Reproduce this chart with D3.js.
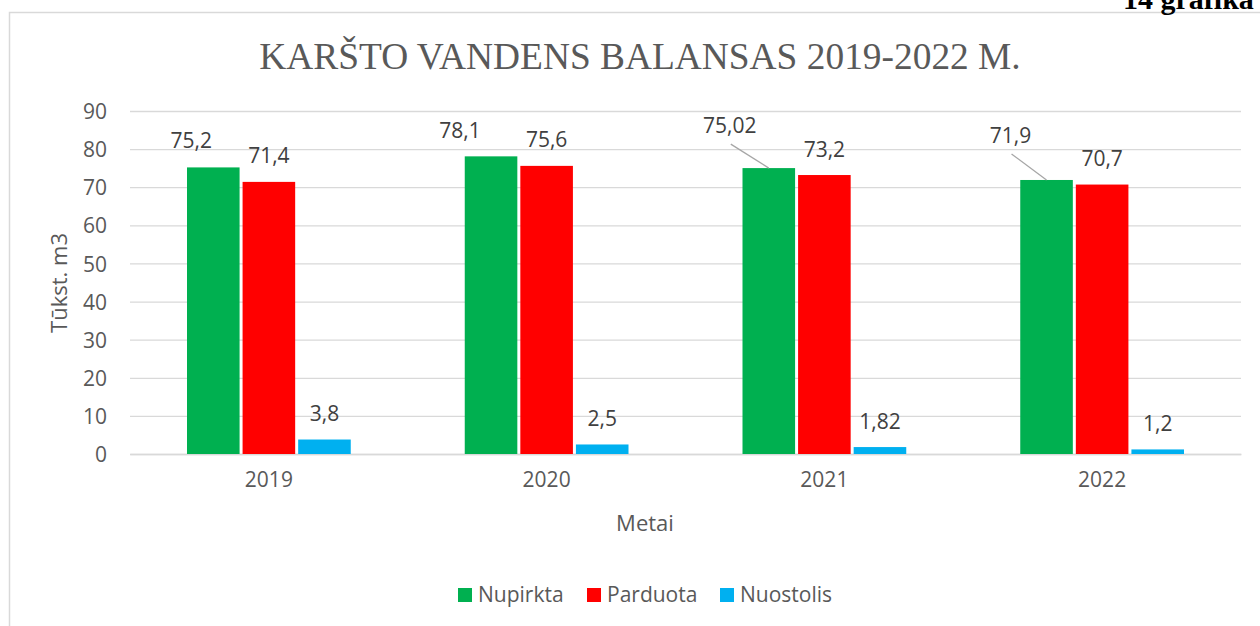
<!DOCTYPE html>
<html>
<head>
<meta charset="utf-8">
<script src="https://cdn.jsdelivr.net/npm/d3@7"></script>
<style>
  body { margin: 0; background: #fff; }
  svg { display: block; }
</style>
</head>
<body>
<script>
"use strict"
const w = 1260;
const h = 626;

// data
const years = ['2019', '2020', '2021', '2022'];
const seriesNames = ['Nupirkta', 'Parduota', 'Nuostolis'];
const nupirkta = [75.2, 78.1, 75.02, 71.9];
const parduota = [71.4, 75.6, 73.2, 70.7];
const nuostolis = [3.8, 2.5, 1.82, 1.2];
const yTicks = [0, 10, 20, 30, 40, 50, 60, 70, 80, 90];

const colors = ['#00b050', '#ff0000', '#00b0f0'];
const textGrey = '#595959';
const gridGrey = '#d9d9d9';
const sans = '"Open Sans", "Noto Sans", sans-serif';

const plot = {left: 130, right: 1241, top: 111, bottom: 454};

const mySvg = d3.select('body')
	.append('svg')
	.attr('width', w)
	.attr('height', h);

// chart frame (runs off the right / bottom edge)
mySvg.append('rect')
	.attr('x', 9.5)
	.attr('y', 12.5)
	.attr('width', 1400)
	.attr('height', 800)
	.attr('fill', 'none')
	.attr('stroke', gridGrey)
	.attr('stroke-width', 1.5);

// page caption, cut off at the top like in the original
mySvg.append('text')
	.attr('x', 1123)
	.attr('y', 9)
	.attr('font-family', '"Liberation Serif", "Times New Roman", serif')
	.attr('font-weight', 'bold')
	.attr('font-size', 30)
	.attr('fill', '#000')
	.text('14 grafika');

mySvg.append('text')
	.attr('x', 640)
	.attr('y', 69)
	.attr('text-anchor', 'middle')
	.attr('font-family', '"Liberation Serif", "Times New Roman", serif')
	.attr('font-size', 37.4)
	.attr('fill', textGrey)
	.text('KARŠTO VANDENS BALANSAS 2019-2022 M.');

const yScale = d3.scaleLinear()
	.domain([0, 90])
	.range([plot.bottom, plot.top]);

const xScale = d3.scaleBand()
	.domain(years)
	.range([plot.left, plot.right]);

const groupPad = 57;
const xInner = d3.scaleBand()
	.domain(seriesNames)
	.range([groupPad, xScale.bandwidth() - groupPad])
	.paddingInner(0.054)
	.paddingOuter(0);

// gridlines + axis labels
const yAxis = d3.axisLeft(yScale)
	.tickValues(yTicks)
	.tickSize(-(plot.right - plot.left))
	.tickPadding(23);

const gy = mySvg.append('g')
	.attr('transform', 'translate(' + plot.left + ',0)')
	.call(yAxis);
gy.select('.domain').remove();
gy.selectAll('line').attr('stroke', gridGrey).attr('stroke-width', 1.3);
gy.selectAll('text')
	.attr('font-family', sans)
	.attr('font-size', 21)
	.attr('fill', textGrey)
	.attr('dy', '0.36em');

const xAxis = d3.axisBottom(xScale).tickSize(0).tickPadding(18);
const gx = mySvg.append('g')
	.attr('transform', 'translate(0,' + plot.bottom + ')')
	.call(xAxis);
gx.select('.domain').attr('stroke', gridGrey).attr('stroke-width', 1.3);
gx.selectAll('text')
	.attr('font-family', sans)
	.attr('font-size', 21)
	.attr('fill', textGrey);

mySvg.append('text')
	.attr('x', 645)
	.attr('y', 531)
	.attr('text-anchor', 'middle')
	.attr('font-family', sans)
	.attr('font-size', 22)
	.attr('fill', textGrey)
	.text('Metai');

mySvg.append('text')
	.attr('transform', 'translate(67,283) rotate(-90)')
	.attr('text-anchor', 'middle')
	.attr('font-family', sans)
	.attr('font-size', 22)
	.attr('fill', textGrey)
	.text('Tūkst. m3');

// bars
const allSeries = [nupirkta, parduota, nuostolis];
const rows = [];
allSeries.forEach((vals, s) => {
	vals.forEach((v, i) => rows.push({s: s, i: i, year: years[i], value: v}));
});

mySvg.append('g')
	.selectAll('rect')
	.data(rows)
	.enter()
	.append('rect')
	.attr('x', d => xScale(d.year) + xInner(seriesNames[d.s]))
	.attr('y', d => yScale(d.value))
	.attr('width', xInner.bandwidth())
	.attr('height', d => yScale(0) - yScale(d.value))
	.attr('fill', d => colors[d.s]);

// data labels; the green ones were dragged up-left in the original
const greenNudge = [[-22, -19], [-31, -18], [-39, -35], [-36, -37]];
const withLeader = [false, false, true, true];

function labelPos(d) {
	const cx = xScale(d.year) + xInner(seriesNames[d.s]) + xInner.bandwidth() / 2;
	const top = yScale(d.value);
	if (d.s === 0) {
		return {cx: cx, top: top, x: cx + greenNudge[d.i][0], y: top + greenNudge[d.i][1]};
	}
	return {cx: cx, top: top, x: cx, y: top - 18.5};
}

mySvg.append('g')
	.selectAll('line')
	.data(rows.filter(d => d.s === 0 && withLeader[d.i]))
	.enter()
	.append('line')
	.attr('x1', d => labelPos(d).x + 1)
	.attr('y1', d => labelPos(d).y + 11)
	.attr('x2', d => labelPos(d).cx)
	.attr('y2', d => labelPos(d).top)
	.attr('stroke', '#a6a6a6')
	.attr('stroke-width', 1.3);

mySvg.append('g')
	.selectAll('text')
	.data(rows)
	.enter()
	.append('text')
	.attr('x', d => labelPos(d).x)
	.attr('y', d => labelPos(d).y)
	.attr('text-anchor', 'middle')
	.attr('font-family', sans)
	.attr('font-size', 21)
	.attr('fill', '#404040')
	.text(d => String(d.value).replace('.', ','));

// legend
const legendX = [458, 587, 720];
const lg = mySvg.append('g')
	.selectAll('g')
	.data(seriesNames)
	.enter()
	.append('g')
	.attr('transform', (d, i) => 'translate(' + legendX[i] + ',588)');
lg.append('rect')
	.attr('width', 14)
	.attr('height', 14)
	.attr('fill', (d, i) => colors[i]);
lg.append('text')
	.attr('x', 20)
	.attr('y', 14)
	.attr('font-family', sans)
	.attr('font-size', 21)
	.attr('fill', textGrey)
	.text(d => d);
</script>
</body>
</html>
